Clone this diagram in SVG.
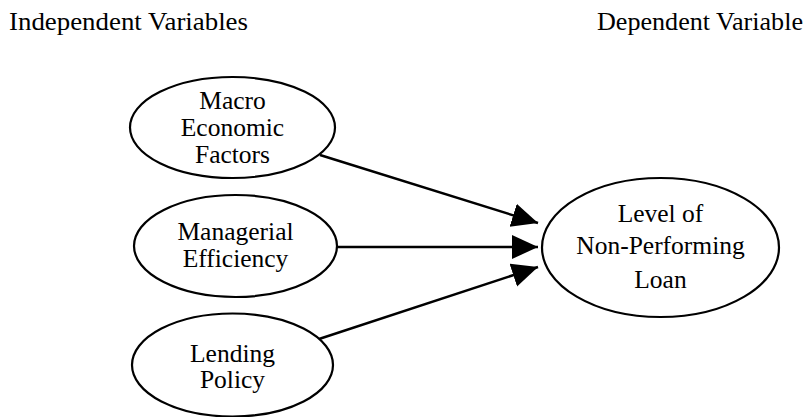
<svg xmlns="http://www.w3.org/2000/svg" width="807" height="417" viewBox="0 0 807 417">
<defs>
<style>
text{font-family:"Liberation Serif","Times New Roman",serif;font-size:25.5px;fill:#000}
.n text{text-anchor:middle}
ellipse{fill:#fff;stroke:#000;stroke-width:2.2}
.c line{stroke:#000;stroke-width:2.4;marker-end:url(#ah)}
</style>
<marker id="ah" markerUnits="userSpaceOnUse" markerWidth="28" markerHeight="26" refX="26" refY="12" orient="auto">
<path d="M0,0 L26,12 L0,24 z" fill="#000"/>
</marker>
</defs>
<rect width="807" height="417" fill="#fff"/>
<text id="h1" x="9" y="30" textLength="239" lengthAdjust="spacingAndGlyphs">Independent Variables</text>
<text id="h2" x="597" y="30" textLength="206" lengthAdjust="spacingAndGlyphs">Dependent Variable</text>
<g class="c" id="connectors">
<line x1="320" y1="155" x2="538" y2="223"/>
<line x1="337" y1="247" x2="538" y2="247"/>
<line x1="319" y1="339" x2="538" y2="267"/>
</g>
<g class="n" id="macro">
<ellipse cx="232.5" cy="127.5" rx="102.5" ry="50.5"/>
<text x="232.5" y="109">Macro</text>
<text x="232.5" y="136">Economic</text>
<text x="232.5" y="162.5">Factors</text>
</g>
<g class="n" id="managerial">
<ellipse cx="235.5" cy="246" rx="101.5" ry="51"/>
<text x="235.5" y="240">Managerial</text>
<text x="235.5" y="267">Efficiency</text>
</g>
<g class="n" id="lending">
<ellipse cx="232.5" cy="365" rx="100.5" ry="51.5"/>
<text x="232.5" y="361.5">Lending</text>
<text x="232.5" y="388">Policy</text>
</g>
<g class="n" id="npl">
<ellipse cx="660.5" cy="247.5" rx="118.5" ry="69.5"/>
<text x="660.5" y="221.5">Level of</text>
<text x="660.5" y="254">Non-Performing</text>
<text x="660.5" y="287.5">Loan</text>
</g>
</svg>
